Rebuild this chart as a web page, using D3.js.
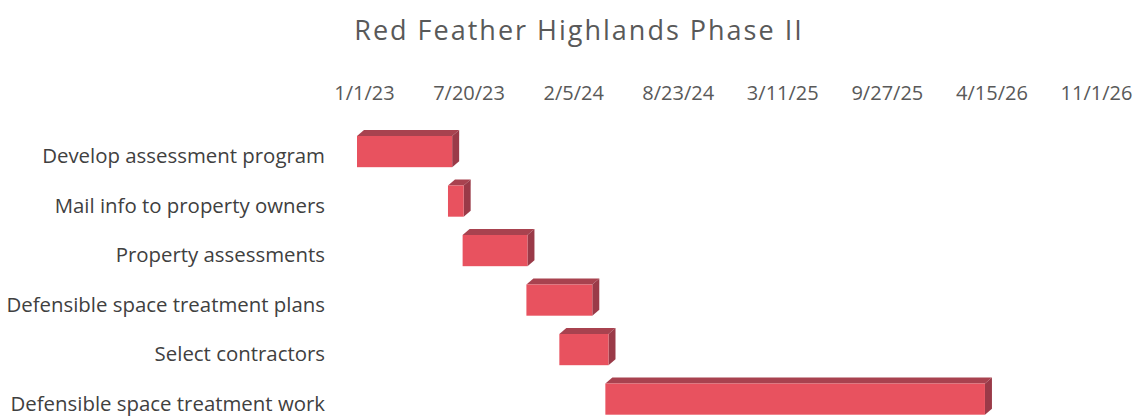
<!DOCTYPE html>
<html>
<head>
<meta charset="utf-8">
<script src="https://cdn.jsdelivr.net/npm/d3@7"></script>
<style>
  body { margin: 0; background: #fff; }
  .tick text { font-family: "Open Sans", sans-serif; }
</style>
</head>
<body>
<div id="wrapper"></div>
<script>
const tasks = [
  "Develop assessment program",
  "Mail info to property owners",
  "Property assessments",
  "Defensible space treatment plans",
  "Select contractors",
  "Defensible space treatment work"
]
const startDates = ["2023-01-01", "2023-06-24", "2023-07-22", "2023-11-21", "2024-01-23", "2024-04-20"]
const endDates = ["2023-07-02", "2023-07-24", "2023-11-23", "2024-03-26", "2024-04-26", "2026-04-16"]
const tickLabels = ["1/1/23", "7/20/23", "2/5/24", "8/23/24", "3/11/25", "9/27/25", "4/15/26", "11/1/26"]

const parseIso = d3.timeParse("%Y-%m-%d")
const parseTick = d3.timeParse("%m/%d/%y")
const tickFormat = d3.timeFormat("%-m/%-d/%y")

const dataset = tasks.map((t, i) => ({
  task: t,
  start: parseIso(startDates[i]),
  end: parseIso(endDates[i])
}))
const tickDates = tickLabels.map(parseTick)

const width = 1141
const height = 418
const depth = { dx: 7, dy: -6 }

const wrapper = d3.select("#wrapper")
  .append("svg")
    .attr("width", width)
    .attr("height", height)

const xScale = d3.scaleTime()
  .domain([tickDates[0], tickDates[tickDates.length - 1]])
  .range([364, 1096])

const yScale = d3.scaleBand()
  .domain(tasks)
  .range([136, 414.7])
  .paddingInner(0.37)
  .paddingOuter(0)

wrapper.append("text")
  .attr("x", 579)
  .attr("y", 40)
  .attr("text-anchor", "middle")
  .attr("fill", "#595959")
  .style("font-family", "'Open Sans', sans-serif")
  .style("font-size", "27px")
  .style("letter-spacing", "2px")
  .text("Red Feather Highlands Phase II")

const xAxisGenerator = d3.axisTop()
  .scale(xScale)
  .tickValues(tickDates)
  .tickFormat(tickFormat)
  .tickSize(0)
  .tickPadding(0)

const xAxis = wrapper.append("g")
  .attr("transform", "translate(0, 100)")
  .call(xAxisGenerator)
xAxis.select(".domain").remove()
xAxis.selectAll("text")
  .attr("fill", "#595959")
  .style("font-size", "20px")

const yAxisGenerator = d3.axisLeft()
  .scale(yScale)
  .tickSize(0)
  .tickPadding(0)

const yAxis = wrapper.append("g")
  .attr("transform", "translate(325, 5)")
  .call(yAxisGenerator)
yAxis.select(".domain").remove()
yAxis.selectAll("text")
  .attr("fill", "#404040")
  .style("font-size", "20.4px")

const bars = wrapper.append("g")
  .selectAll("g")
  .data(dataset)
  .enter().append("g")

const fx0 = d => xScale(d.start) - depth.dx
const fx1 = d => xScale(d.end) - depth.dx
const fy0 = d => yScale(d.task)
const fy1 = d => yScale(d.task) + yScale.bandwidth()

// top face
bars.append("polygon")
  .attr("points", d => [
    [fx0(d), fy0(d)],
    [fx0(d) + depth.dx, fy0(d) + depth.dy],
    [fx1(d) + depth.dx, fy0(d) + depth.dy],
    [fx1(d), fy0(d)]
  ].join(" "))
  .attr("fill", "#a8424f")

// side face
bars.append("polygon")
  .attr("points", d => [
    [fx1(d), fy0(d)],
    [fx1(d) + depth.dx, fy0(d) + depth.dy],
    [fx1(d) + depth.dx, fy1(d) + depth.dy],
    [fx1(d), fy1(d)]
  ].join(" "))
  .attr("fill", "#9a3a48")

// front face
bars.append("rect")
  .attr("x", fx0)
  .attr("y", fy0)
  .attr("width", d => fx1(d) - fx0(d))
  .attr("height", yScale.bandwidth())
  .attr("fill", "#e8525f")
</script>
</body>
</html>
